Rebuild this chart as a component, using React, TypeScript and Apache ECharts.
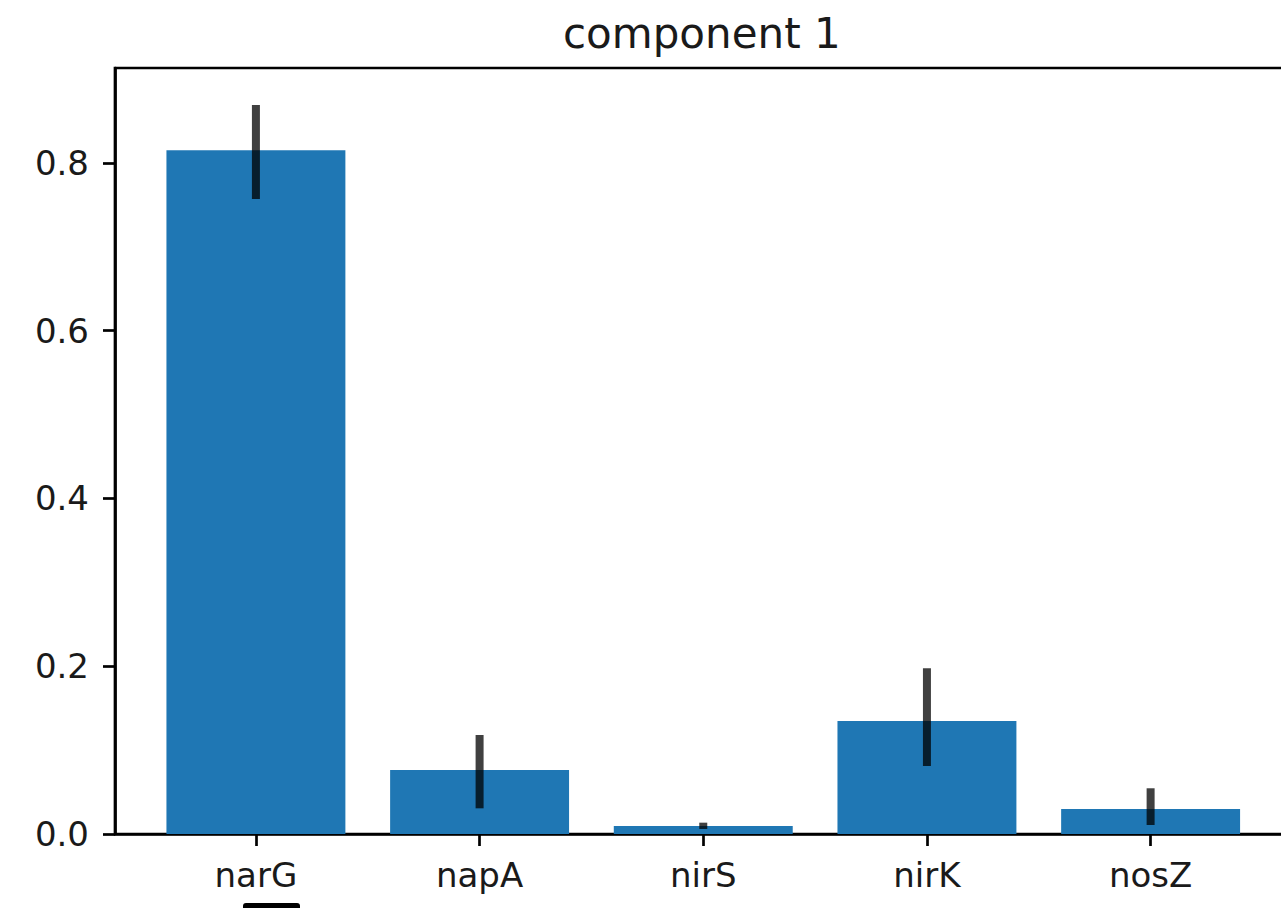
import React, { useEffect, useRef } from "react";
import * as echarts from "echarts";

const categories = ["narG", "napA", "nirS", "nirK", "nosZ"];
const values = [0.815, 0.0763, 0.0095, 0.1347, 0.0298];
const errLow = [0.757, 0.0306, 0.006, 0.081, 0.0107];
const errHigh = [0.869, 0.118, 0.0135, 0.1975, 0.0545];
const yTicks = [0, 0.2, 0.4, 0.6, 0.8];
const xTicks = [0, 1, 2, 3, 4];
const titleText = "component 1";

const FONT = "DejaVu Sans";

export default function App() {
  const ref = useRef<HTMLDivElement>(null);
  useEffect(() => {
    if (!ref.current) return;
    const chart = echarts.init(ref.current, null, { renderer: "svg" });
    const barData = values.map((v, i) => [i, v]);
    const errData = values.map((v, i) => [i, errLow[i], errHigh[i]]);
    const spine = { color: "#000", width: 2.7 };
    chart.setOption({
      animation: false,
      backgroundColor: "#ffffff",
      title: {
        text: titleText,
        left: 563,
        top: 12,
        padding: 0,
        textStyle: { fontFamily: FONT, fontSize: 42, fontWeight: "normal", color: "#1a1a1a" },
      },
      grid: {
        left: 115,
        top: 68,
        width: 1181,
        height: 766,
        outerBoundsMode: "none",
        containLabel: false,
        show: true,
        borderColor: "#000",
        borderWidth: 2.7,
        backgroundColor: "transparent",
      },
      xAxis: {
        type: "value",
        min: -0.63,
        max: 4.65,
        splitLine: { show: false },
        axisLine: { show: true, onZero: false, lineStyle: spine },
        axisTick: {
          show: true,
          customValues: xTicks,
          length: 12,
          lineStyle: spine,
        },
        axisLabel: {
          customValues: xTicks,
          formatter: (v: number) => categories[Math.round(v)] ?? "",
          fontFamily: FONT,
          fontSize: 34,
          color: "#1a1a1a",
          margin: 24,
        },
      },
      yAxis: {
        type: "value",
        min: 0,
        max: 0.913,
        splitLine: { show: false },
        axisLine: { show: true, onZero: false, lineStyle: spine },
        axisTick: {
          show: true,
          customValues: yTicks,
          length: 12,
          lineStyle: spine,
        },
        axisLabel: {
          customValues: yTicks,
          formatter: (v: number) => v.toFixed(1),
          fontFamily: FONT,
          fontSize: 34,
          color: "#1a1a1a",
          margin: 26,
        },
      },
      series: [
        {
          type: "custom",
          name: "bars",
          data: barData,
          renderItem: (params: any, api: any) => {
            const x = api.value(0);
            const v = api.value(1);
            const p0 = api.coord([x - 0.4, v]);
            const p1 = api.coord([x + 0.4, 0]);
            return {
              type: "rect",
              shape: { x: p0[0], y: p0[1], width: p1[0] - p0[0], height: p1[1] - p0[1] },
              style: { fill: "#1f77b4" },
            };
          },
          z: 2,
        },
        {
          type: "custom",
          name: "errors",
          data: errData,
          renderItem: (params: any, api: any) => {
            const x = api.value(0);
            const lo = api.coord([x, api.value(1)]);
            const hi = api.coord([x, api.value(2)]);
            return {
              type: "line",
              shape: { x1: lo[0], y1: lo[1], x2: hi[0], y2: hi[1] },
              style: { stroke: "rgba(0,0,0,0.75)", lineWidth: 8, lineCap: "butt" },
            };
          },
          z: 3,
        },
      ],
      graphic: [
        {
          type: "rect",
          shape: { x: 243, y: 903, width: 57, height: 12, r: 3 },
          style: { fill: "#000" },
        },
        {
          type: "rect",
          z: 100,
          shape: { x: 1266, y: 72, width: 20, height: 759 },
          style: { fill: "#fff" },
        },
      ],
    });
    return () => chart.dispose();
  }, []);
  return (
    <div
      style={{
        position: "fixed",
        left: 0,
        top: 0,
        width: 1281,
        height: 908,
        overflow: "hidden",
        background: "#fff",
      }}
    >
      <div ref={ref} style={{ width: 1320, height: 908 }} />
    </div>
  );
}
